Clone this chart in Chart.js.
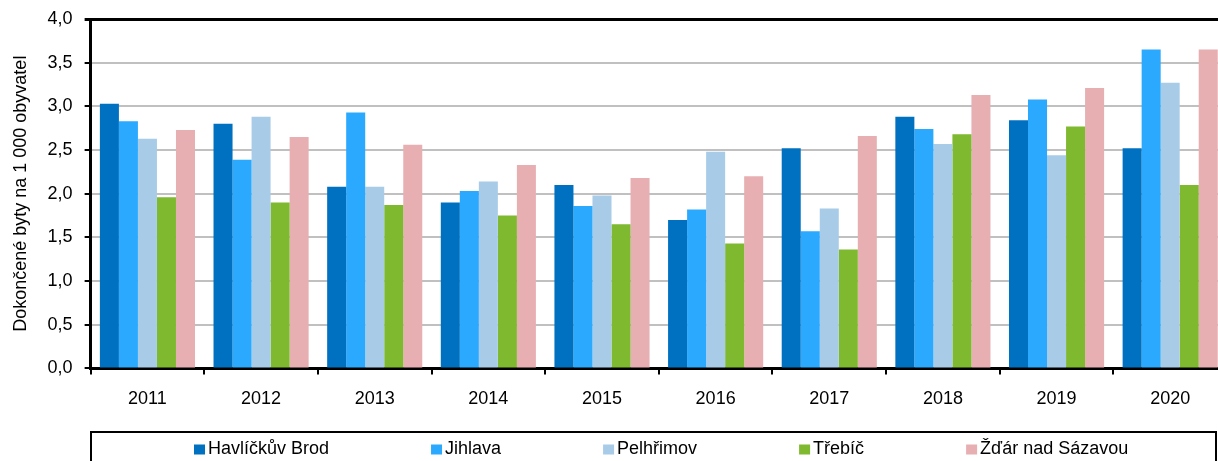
<!DOCTYPE html>
<html>
<head>
<meta charset="utf-8">
<script src="https://cdn.jsdelivr.net/npm/chart.js@4/dist/chart.umd.min.js"></script>
<style>
  html, body { margin: 0; padding: 0; background: #fff; overflow: hidden; }
  #wrap { position: absolute; left: 0; top: 0; width: 1236px; height: 461px; }
</style>
</head>
<body>
<div id="wrap"><canvas id="c" width="1236" height="461"></canvas></div>
<script>
const years = ['2011','2012','2013','2014','2015','2016','2017','2018','2019','2020'];
const havlickuvBrod = [3.03, 2.80, 2.08, 1.90, 2.10, 1.70, 2.52, 2.88, 2.84, 2.52];
const jihlava       = [2.83, 2.39, 2.93, 2.03, 1.86, 1.82, 1.57, 2.74, 3.08, 3.65];
const pelhrimov     = [2.63, 2.88, 2.08, 2.14, 1.98, 2.48, 1.83, 2.57, 2.44, 3.27];
const trebic        = [1.96, 1.90, 1.87, 1.75, 1.65, 1.43, 1.36, 2.68, 2.77, 2.10];
const zdar          = [2.73, 2.65, 2.56, 2.33, 2.18, 2.20, 2.66, 3.13, 3.21, 3.65];
const seriesNames = ['Havlíčkův Brod', 'Jihlava', 'Pelhřimov', 'Třebíč', 'Žďár nad Sázavou'];
const seriesColors = ['#0070C0', '#2AA9FF', '#A8CCE8', '#7EB92F', '#E7AFB2'];
const yTitle = 'Dokončené byty na 1 000 obyvatel';
const FONT = 'Liberation Sans, Arial, sans-serif';
const FS = 18;

const seriesData = [havlickuvBrod, jihlava, pelhrimov, trebic, zdar];
const datasets = seriesData.map((d, i) => ({
  label: seriesNames[i],
  data: d,
  backgroundColor: seriesColors[i],
  borderWidth: 0,
  categoryPercentage: 0.837,
  barPercentage: 1.0
}));

const legendBox = {
  id: 'legendBox',
  afterDraw(chart) {
    const ctx = chart.ctx;
    const left = 91, right = 1216, top = 432;
    ctx.save();
    ctx.strokeStyle = '#000';
    ctx.lineWidth = 2;
    ctx.strokeRect(left, top, right - left, 60);
    ctx.font = FS + 'px ' + FONT;
    ctx.textBaseline = 'middle';
    ctx.textAlign = 'left';
    const gap = 102, box = 11, tgap = 3;
    let x = 194;
    const cy = 449.5;
    chart.data.datasets.forEach((ds) => {
      ctx.fillStyle = ds.backgroundColor;
      ctx.fillRect(x, cy - 5, box, box - 1);
      ctx.fillStyle = '#000';
      ctx.fillText(ds.label, x + box + tgap, cy);
      x += box + tgap + ctx.measureText(ds.label).width + gap;
    });
    ctx.restore();
  }
};

new Chart(document.getElementById('c'), {
  type: 'bar',
  data: { labels: years, datasets },
  plugins: [legendBox],
  options: {
    responsive: false,
    animation: false,
    layout: { padding: { left: 4, top: 0, right: 9, bottom: 37 } },
    plugins: { legend: { display: false }, tooltip: { enabled: false } },
    scales: {
      x: {
        grid: { display: true, drawOnChartArea: false, drawTicks: true, tickLength: 6, color: '#000', lineWidth: 2, offset: true },
        border: { display: true, color: '#000', width: 3 },
        ticks: { color: '#000', font: { family: FONT, size: FS }, padding: 14 }
      },
      y: {
        min: 0, max: 4,
        ticks: {
          stepSize: 0.5, color: '#000', padding: 12,
          font: { family: FONT, size: FS, lineHeight: 0.78 },
          callback: (v) => Number(v).toFixed(1).replace('.', ',')
        },
        grid: {
          color: (c) => (c.tick && c.tick.value === 4 ? '#000' : '#C0C0C0'),
          lineWidth: (c) => (c.tick && c.tick.value === 4 ? 3 : 2),
          tickColor: '#000', tickLength: 6, drawTicks: true
        },
        border: { display: true, color: '#000', width: 3 },
        title: { display: true, text: yTitle, color: '#000', font: { family: FONT, size: FS }, padding: { top: 6, bottom: 4 } }
      }
    }
  }
});
</script>
</body>
</html>
